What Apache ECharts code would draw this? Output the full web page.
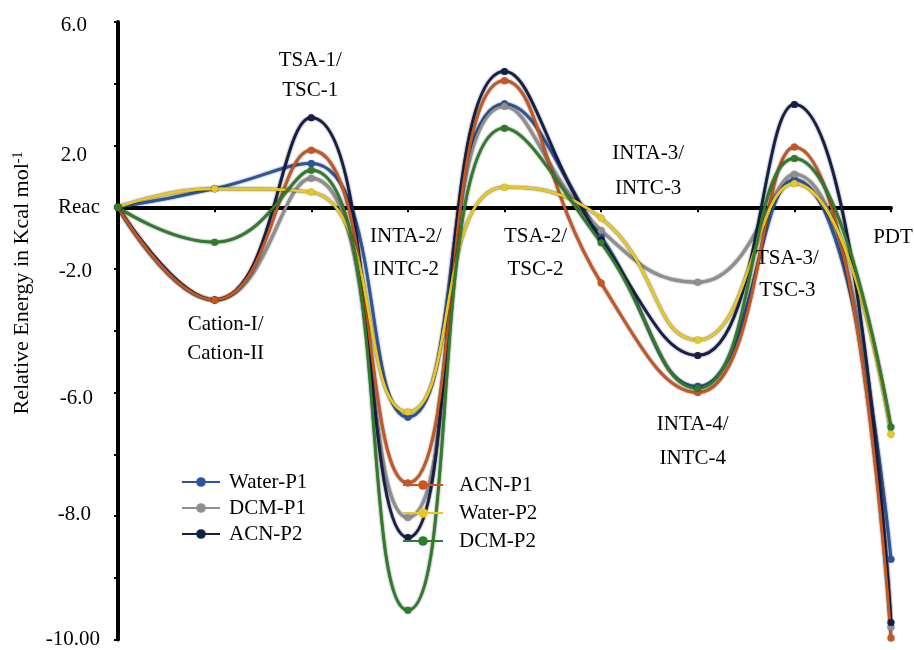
<!DOCTYPE html>
<html>
<head>
<meta charset="utf-8">
<script src="https://cdn.jsdelivr.net/npm/echarts@6/dist/echarts.min.js"></script>
<style>html,body{margin:0;padding:0;background:#fff}#c{width:914px;height:650px}</style>
</head>
<body>
<div id="c"></div>
<script>
var categories = ['Reac','Cation-I/Cation-II','TSA-1/TSC-1','INTA-2/INTC-2','TSA-2/TSC-2','INTA-3/INTC-3','INTA-4/INTC-4','TSA-3/TSC-3','PDT'];
var seriesNames = ['Water-P1','DCM-P1','ACN-P2','ACN-P1','Water-P2','DCM-P2'];
var waterP1 = [0, 0.6, 1.42, -6.8, 3.35, -0.95, -5.8, 0.9, -11.4];
var dcmP1   = [0, -3.0, 0.94, -10.05, 3.27, -0.75, -2.43, 1.07, -13.6];
var acnP2   = [0, -3.0, 2.9, -10.7, 4.4, -1.05, -4.8, 3.33, -13.45];
var acnP1   = [0, -3.0, 1.85, -8.93, 4.1, -2.45, -6.0, 1.95, -13.95];
var waterP2 = [0, 0.6, 0.49, -6.63, 0.65, -0.35, -4.3, 0.77, -7.35];
var dcmP2   = [0, -1.13, 1.2, -13.05, 2.56, -1.15, -5.86, 1.58, -7.12];
var yTickValues = [6, 4, 2, 0, -2, -4, -6, -8, -10, -12, -14];
var yTickLabels = ['6.0', '', '2.0', 'Reac', '-2.0', '', '-6.0', '', '-8.0', '', '-10.00'];

var seriesData = [waterP1, dcmP1, acnP2, acnP1, waterP2, dcmP2];
var colors = ['#2a56a0', '#8f8f8f', '#14204a', '#c8561e', '#e8c822', '#2f7d2a'];
var FONT = '"Liberation Serif", "Times New Roman", serif';

// per-label fine placement (style only)
var labelStyle = {
  '6.0':   {padding: [6, 13, 0, 0]},
  '2.0':   {padding: [20, 13, 0, 0]},
  'Reac':  {padding: [0, 0, 0, 0]},
  '-2.0':  {padding: [4, 8, 0, 0]},
  '-6.0':  {padding: [12, 7, 0, 0]},
  '-8.0':  {padding: [0, 9, 4, 0]},
  '-10.00':{padding: [0, 0, 0, 0]}
};
var rich = {};
var keys = Object.keys(labelStyle);
keys.forEach(function (k, i) {
  rich['s' + i] = Object.assign({fontFamily: FONT, fontSize: 21, color: '#000'}, labelStyle[k]);
});

// annotation layout: category index, anchor value, dx, lineHeight
var annot = [
  {i: 1, v: -4.27, dx: 11, lh: 29},
  {i: 2, v: 4.27, dx: -1, lh: 30},
  {i: 3, v: -1.49, dx: -2, lh: 33},
  {i: 4, v: -1.49, dx: 31, lh: 33},
  {i: 5, v: 1.17, dx: 47, lh: 35},
  {i: 6, v: -7.6, dx: -5, lh: 34},
  {i: 7, v: -2.17, dx: -7, lh: 32},
  {i: 8, v: -0.97, dx: 2, lh: 24}
];

var chart = echarts.init(document.getElementById('c'), null, {renderer: 'canvas'});

var series = seriesNames.map(function (n, k) {
  return {
    name: n,
    type: 'line',
    data: seriesData[k],
    smooth: 0.5,
    symbol: 'circle',
    symbolSize: 7,
    color: colors[k],
    lineStyle: {width: 2.8, color: colors[k], shadowColor: 'rgba(0,0,0,0.75)', shadowBlur: 2},
    itemStyle: {color: colors[k], shadowColor: 'rgba(0,0,0,0.5)', shadowBlur: 1}
  };
});

var legendText = {fontFamily: FONT, fontSize: 21, color: '#000', lineHeight: 22};

chart.setOption({
  animation: false,
  backgroundColor: '#fff',
  grid: {left: 118, right: 23, top: 22, bottom: 10, containLabel: false},
  legend: [
    {
      data: seriesNames.slice(0, 3), orient: 'vertical', left: 176, top: 466,
      itemWidth: 38, itemHeight: 12, itemGap: 4,
      textStyle: Object.assign({padding: [0, 0, 0, 4]}, legendText)
    },
    {
      data: seriesNames.slice(3), orient: 'vertical', left: 397, top: 469,
      itemWidth: 40, itemHeight: 12, itemGap: 6,
      textStyle: Object.assign({padding: [0, 0, 0, 11]}, legendText)
    }
  ],
  xAxis: {
    type: 'category',
    data: categories,
    boundaryGap: false,
    axisLine: {onZero: true, lineStyle: {color: '#000', width: 4}},
    axisTick: {show: true, interval: 0, length: 5, lineStyle: {color: '#000', width: 2}},
    axisLabel: {show: false},
    splitLine: {show: false}
  },
  yAxis: {
    type: 'value',
    min: -14, max: 6, interval: 2,
    axisLine: {show: true, lineStyle: {color: '#000', width: 4}},
    axisTick: {show: true, length: 4, lineStyle: {color: '#000', width: 2}},
    splitLine: {show: false},
    axisLabel: {
      margin: 18,
      rich: rich,
      formatter: function (val) {
        var idx = yTickValues.indexOf(val);
        if (idx < 0) return '';
        var t = yTickLabels[idx];
        if (!t) return '';
        return '{s' + keys.indexOf(t) + '|' + t + '}';
      }
    }
  },
  series: series
});

function drawGraphics() {
  var els = [];
  annot.forEach(function (a) {
    var p = chart.convertToPixel({xAxisIndex: 0, yAxisIndex: 0}, [a.i, a.v]);
    els.push({
      type: 'text',
      x: p[0] + a.dx, y: p[1],
      style: {
        text: categories[a.i].replace('/', '/\n'),
        fontFamily: FONT, fontSize: 21, fill: '#000',
        align: 'center', verticalAlign: 'middle', lineHeight: a.lh
      },
      z: 10
    });
  });
  els.push({
    type: 'text',
    x: 22, y: 283,
    rotation: Math.PI / 2,
    style: {
      text: 'Relative Energy in Kcal mol{sup|-1}',
      rich: {sup: {fontFamily: FONT, fontSize: 14, verticalAlign: 'top', fill: '#000'}},
      fontFamily: FONT, fontSize: 22, fill: '#000',
      align: 'center', verticalAlign: 'middle'
    },
    z: 10
  });
  chart.setOption({graphic: els});
}
drawGraphics();
</script>
</body>
</html>
